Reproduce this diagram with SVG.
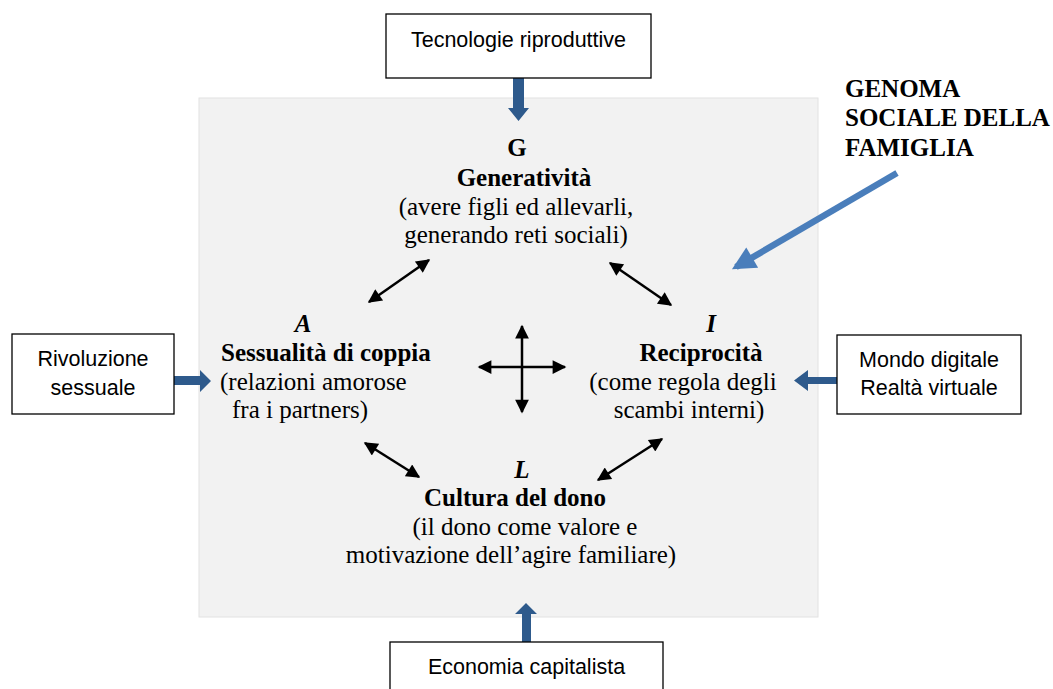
<svg xmlns="http://www.w3.org/2000/svg" width="1053" height="689" viewBox="0 0 1053 689">
<defs>
<style>
.serif{font-family:"Liberation Serif","Times New Roman",serif;font-size:25px;fill:#000}
.b{font-weight:bold}
.i{font-style:italic}
.sans{font-family:"Liberation Sans",Arial,sans-serif;font-size:21.5px;fill:#000}
.box{fill:#fff;stroke:#000;stroke-width:1.3}
.blk{fill:#2E5A8C}
.dbl{stroke:#000;stroke-width:2.5;fill:none;marker-start:url(#ah);marker-end:url(#ah)}
</style>
<marker id="ah" viewBox="0 0 10 10" refX="9" refY="5" markerWidth="6.5" markerHeight="5.5" markerUnits="strokeWidth" orient="auto-start-reverse">
<path d="M0,0 L10,5 L0,10 Z" fill="#000"/>
</marker>
<marker id="bh" viewBox="0 0 10 10" refX="8" refY="5" markerWidth="3.8" markerHeight="3.6" markerUnits="strokeWidth" orient="auto">
<path d="M0,0 L10,5 L0,10 Z" fill="#4A7EBB"/>
</marker>
</defs>
<rect x="199" y="98" width="619" height="519" fill="#f2f2f2" stroke="#e2e2e2" stroke-width="1"/>

<g id="connectors">
<path class="blk" d="M513,78 H524 V108 H529 L518.5,121 L508,108 H513 Z"/>
<path class="blk" d="M163,376 H200 V370 L211,381 L200,392 V385 H163 Z"/>
<path class="blk" d="M850,377 H808 V370 L794,380.5 L808,391 V384 H850 Z"/>
<path class="blk" d="M522,645 V614 H515 L526,603 L537,614 H531 V645 Z"/>
<line x1="897" y1="173" x2="736" y2="267" stroke="#4A7EBB" stroke-width="6.5" marker-end="url(#bh)"/>
<line class="dbl" x1="369" y1="302" x2="429" y2="260"/>
<line class="dbl" x1="610" y1="263" x2="671" y2="305"/>
<line class="dbl" x1="365" y1="443" x2="419" y2="477"/>
<line class="dbl" x1="598" y1="480" x2="662" y2="439"/>
<line class="dbl" x1="479" y1="367" x2="565" y2="367"/>
<line class="dbl" x1="522" y1="326" x2="522" y2="412"/>
</g>

<g id="tecnologie">
<rect class="box" x="386" y="14" width="265" height="64"/>
<text class="sans" x="518.5" y="47" text-anchor="middle">Tecnologie riproduttive</text>
</g>
<g id="rivoluzione">
<rect class="box" x="12" y="334" width="162" height="80"/>
<text class="sans" x="93" y="366" text-anchor="middle">Rivoluzione</text>
<text class="sans" x="93" y="395" text-anchor="middle">sessuale</text>
</g>
<g id="mondo">
<rect class="box" x="837" y="335" width="184" height="79"/>
<text class="sans" x="929" y="367" text-anchor="middle">Mondo digitale</text>
<text class="sans" x="929" y="395" text-anchor="middle">Realtà virtuale</text>
</g>
<g id="economia">
<rect class="box" x="390" y="642" width="273" height="60"/>
<text class="sans" x="526.5" y="674" text-anchor="middle">Economia capitalista</text>
</g>

<g id="genoma">
<text class="serif b" x="845" y="97">GENOMA</text>
<text class="serif b" x="845" y="126">SOCIALE DELLA</text>
<text class="serif b" x="845" y="156">FAMIGLIA</text>
</g>

<g id="G">
<text class="serif b" x="517" y="156" text-anchor="middle">G</text>
<text class="serif b" x="524" y="186" text-anchor="middle">Generatività</text>
<text class="serif" x="516" y="215" text-anchor="middle">(avere figli ed allevarli,</text>
<text class="serif" x="516" y="243" text-anchor="middle">generando reti sociali)</text>
</g>
<g id="A">
<text class="serif b i" x="303" y="332" text-anchor="middle">A</text>
<text class="serif b" x="221" y="361">Sessualità di coppia</text>
<text class="serif" x="220" y="390">(relazioni amorose</text>
<text class="serif" x="232" y="418">fra i partners)</text>
</g>
<g id="I">
<text class="serif b i" x="711" y="332" text-anchor="middle">I</text>
<text class="serif b" x="701" y="361" text-anchor="middle">Reciprocità</text>
<text class="serif" x="683" y="390" text-anchor="middle">(come regola degli</text>
<text class="serif" x="689" y="418" text-anchor="middle">scambi interni)</text>
</g>
<g id="L">
<text class="serif b i" x="522" y="478" text-anchor="middle">L</text>
<text class="serif b" x="515" y="506" text-anchor="middle">Cultura del dono</text>
<text class="serif" x="525" y="535" text-anchor="middle">(il dono come valore e</text>
<text class="serif" x="511" y="563" text-anchor="middle">motivazione dell’agire familiare)</text>
</g>
</svg>
